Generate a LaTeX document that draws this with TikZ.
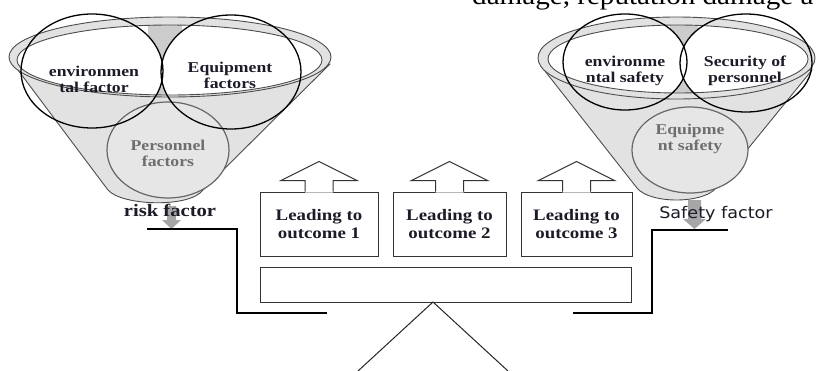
\documentclass[tikz,border=0pt]{standalone}
\usepackage{fontspec}
\setmainfont{Liberation Serif}
\newfontfamily\lblfont[FakeStretch=1.18]{Liberation Serif}
\newfontfamily\sansfnt[FakeStretch=1.1]{DejaVu Sans}
\newfontfamily\topfont[FakeStretch=1.12]{Liberation Serif}
\definecolor{conegray}{HTML}{E2E2E2}
\definecolor{persgray}{HTML}{E6E6E6}
\definecolor{bandgray}{HTML}{CCCCCC}
\definecolor{hintgray}{HTML}{A6A6A6}
\definecolor{txtdark}{HTML}{1C1C28}
\definecolor{txtgray}{HTML}{6E6E6E}
\tikzset{
  conestyle/.style={fill=conegray, draw=black!70, line width=0.9pt, line join=round},
  rimline/.style={draw=black!70, line width=0.9pt},
  ring/.style={draw=black, line width=1.3pt},
  persring/.style={draw=black!60, line width=1.2pt, fill=persgray},
  lbl/.style={font=\lblfont\bfseries\fontsize{15}{16}\selectfont, text=txtdark, align=center, inner sep=0pt},
  graylbl/.style={lbl, text=txtgray},
  outbox/.style={draw=black!80, line width=1pt, minimum height=64pt, inner sep=0pt, align=center,
    font=\lblfont\bfseries\fontsize{16}{18}\selectfont, text=txtdark},
  arrline/.style={draw=black!80, line width=1pt, line join=miter},
  bracket/.style={draw=black, line width=2pt},
  thinline/.style={draw=black!85, line width=1pt},
  hint/.style={fill=hintgray}
}
\begin{document}
\begin{tikzpicture}[x=1pt, y=-1pt]
\useasboundingbox (0,0) rectangle (817,370);
\fill[white] (0,0) rectangle (817,370);

% top cut text
\begin{scope}
  \clip (0,0) rectangle (817,370);
  \node[anchor=base west, inner sep=0pt, font=\topfont\fontsize{26}{26}\selectfont] (toptext) at (472,4.5) {damage, reputation damage a};
\end{scope}

% ================= LEFT FUNNEL =================
\path[conestyle] (12,62) -- (108,190) .. controls (122,206) and (190,208) .. (203,190) -- (330,64) -- cycle;
\draw[rimline, fill=conegray] (170,57) ellipse [x radius=161pt, y radius=40pt];
\fill[white] (169.5,60) ellipse [x radius=152.5pt, y radius=35pt];
\begin{scope}
  \clip (169.5,60) ellipse [x radius=152.5pt, y radius=35pt];
  \fill[bandgray] (148,20) rectangle (182,100);
  \fill[white] (92,71) ellipse [x radius=71pt, y radius=57pt];
  \fill[white] (231,72) ellipse [x radius=70pt, y radius=57pt];
\end{scope}
\draw[rimline] (169.5,60) ellipse [x radius=152.5pt, y radius=35pt];
\draw[persring] (168,150) ellipse [x radius=61pt, y radius=48pt];
\draw[ring] (92,71) ellipse [x radius=71pt, y radius=57pt];
\draw[ring] (231,72) ellipse [x radius=70pt, y radius=57pt];
\node[lbl] (envf) at (94,79) {environmen\\tal factor};
\node[lbl] (eqf) at (230,75) {Equipment\\factors};
\node[graylbl] (perf) at (168,153) {Personnel\\factors};

% ================= RIGHT FUNNEL =================
\path[conestyle] (541,66) -- (637,188) .. controls (650,204) and (703,204) .. (716,188) -- (812,70) -- cycle;
\draw[rimline, fill=conegray] (676.5,58) ellipse [x radius=138.5pt, y radius=41pt];
\fill[white] (678,59) ellipse [x radius=130pt, y radius=34pt];
\begin{scope}
  \clip (678,59) ellipse [x radius=130pt, y radius=34pt];
  \fill[bandgray] (670,20) rectangle (698,100);
  \fill[white] (625,62) ellipse [x radius=62pt, y radius=48pt];
  \fill[white] (746,63) ellipse [x radius=66pt, y radius=49pt];
\end{scope}
\draw[rimline] (678,59) ellipse [x radius=130pt, y radius=34pt];
\draw[persring] (690,150) ellipse [x radius=58pt, y radius=43pt];
\draw[ring] (625,62) ellipse [x radius=62pt, y radius=48pt];
\draw[ring] (746,63) ellipse [x radius=66pt, y radius=49pt];
\node[lbl] (envs) at (625,71) {environme\\ntal safety};
\node[lbl] (secs) at (745,71) {Security of\\personnel};
\node[graylbl] (eqs) at (690,139) {Equipme\\nt safety};

% ================= hint arrows and labels =================
\fill[hint] (167,206) -- (176,206) -- (176,220) -- (181,220) -- (171.5,229) -- (162,220) -- (167,220) -- cycle;
\fill[hint] (688,200) -- (701,200) -- (701,219) -- (706,219) -- (694.5,229) -- (683,219) -- (688,219) -- cycle;
\node[anchor=base, inner sep=0pt, font=\lblfont\bfseries\fontsize{17.5}{20}\selectfont, text=txtdark] (risk) at (170,216) {risk factor};
\node[anchor=base, inner sep=0pt, font=\sansfnt\fontsize{16}{18}\selectfont, text=txtdark] (safe) at (716,218) {Safety factor};

% ================= brackets =================
\draw[bracket] (147,229) -- (237,229) -- (237,313) -- (327,313);
\draw[bracket] (728,230) -- (652,230) -- (652,313) -- (573,313);

% ================= outcome boxes =================
\node[outbox, minimum width=118pt] (b1) at (319,224) {Leading to\\outcome 1};
\node[outbox, minimum width=113pt] (b2) at (449.5,224) {Leading to\\outcome 2};
\node[outbox, minimum width=111pt] (b3) at (576.5,224) {Leading to\\outcome 3};
\foreach \b in {b1,b2,b3}{
  \fill[white] ([xshift=-14pt,yshift=-1pt]\b.north) -- ++(0,-12) -- ++(-24,0) -- ++(38,-19) -- ++(38,19) -- ++(-24,0) -- ++(0,12) -- cycle;
  \draw[arrline] ([xshift=-14pt]\b.north) -- ++(0,-11) -- ++(-24,0) -- ++(38,-19) -- ++(38,19) -- ++(-24,0) -- ++(0,11);
}

% ================= beam and fulcrum =================
\node[draw=black!80, line width=1pt, minimum width=371pt, minimum height=35pt, inner sep=0pt] (beam) at (445.5,284.5) {};
\coordinate (apex) at (433,302);
\coordinate (fl) at (358,371);
\coordinate (fr) at (508,371);
\draw[thinline] (fl) -- (apex) -- (fr);
\end{tikzpicture}
\end{document}
